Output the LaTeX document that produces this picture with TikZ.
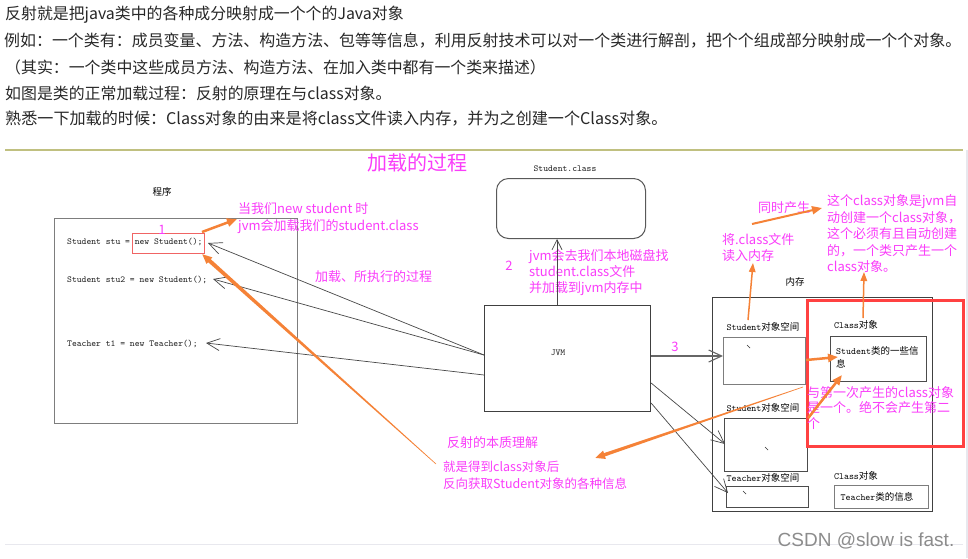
\documentclass[tikz,border=0pt]{standalone}
\usepackage{fontspec}
\setmainfont{Noto Sans CJK SC}
\newfontfamily\wmfont{Liberation Sans}
\usetikzlibrary{arrows.meta,calc}
\definecolor{mag}{RGB}{250,60,250}
\definecolor{org}{RGB}{245,130,55}
\definecolor{redb}{RGB}{255,65,65}
\definecolor{redthin}{RGB}{240,100,100}
\definecolor{oliveline}{RGB}{192,192,128}
\definecolor{txt}{RGB}{40,40,40}
\definecolor{boxgray}{RGB}{125,125,125}
\definecolor{faint}{RGB}{232,232,238}
\begin{document}
\begin{tikzpicture}[x=1pt,y=-1pt,
 toptext/.style={anchor=west,inner sep=0pt,text=txt,font=\fontsize{15.9}{16}\selectfont},
 mtext/.style={anchor=west,inner sep=0pt,text=mag,align=left,font=\fontsize{13}{16.5}\selectfont},
 mono/.style={inner sep=0pt,text=black!85,font=\fontsize{9.2}{11}\ttfamily},
 lbl/.style={inner sep=0pt,font=\fontsize{9.5}{11}\selectfont},
 gbox/.style={draw=boxgray,line width=1.2pt,anchor=north west,inner sep=0pt},
 dbox/.style={draw=black!75,line width=1.1pt,anchor=north west,inner sep=0pt},
 thinarr/.style={draw=black!72,line width=0.7pt,-{Straight Barb[length=13pt,width=12pt]}},
 oarr/.style={draw=org,line width=2.5pt,-{Triangle[length=10pt,width=8pt]}},
 oarrthin/.style={draw=org,line width=1.5pt,-{Triangle[length=9pt,width=6.5pt]}},
 tick/.style={draw=black!80,line width=0.7pt}
]
\useasboundingbox (0,0) rectangle (968,558);
\fill[white] (0,0) rectangle (968,558);

% ---------- top text ----------
\node[toptext] (l1) at (5,15) {反射就是把java类中的各种成分映射成一个个的Java对象};
\node[toptext,font=\fontsize{15.95}{16}\selectfont] (l2) at (4,41) {例如：一个类有：成员变量、方法、构造方法、包等等信息，利用反射技术可以对一个类进行解剖，把个个组成部分映射成一个个对象。};
\node[toptext] (l3) at (5,67) {（其实：一个类中这些成员方法、构造方法、在加入类中都有一个类来描述）};
\node[toptext] (l4) at (5,93) {如图是类的正常加载过程：反射的原理在与class对象。};
\node[toptext,font=\fontsize{16.1}{16}\selectfont] (l5) at (5,119) {熟悉一下加载的时候：Class对象的由来是将class文件读入内存，并为之创建一个Class对象。};
\draw[oliveline,line width=2pt] (5,150) -- (963,150);
\draw[faint,line width=2pt] (966.5,150) -- (966.5,558);
\draw[faint,line width=1pt] (5,544) -- (963,544);

% ---------- boxes ----------
\node[gbox,minimum width=243pt,minimum height=205pt] (prog) at (54,218) {};
\node[draw=redthin,line width=0.8pt,anchor=north west,inner sep=0pt,minimum width=72pt,minimum height=20pt] (rb) at (132,233) {};
\node[draw=black!65,line width=1pt,anchor=north west,inner sep=0pt,rounded corners=12pt,minimum width=149pt,minimum height=60pt] (scls) at (496,178) {};
\node[dbox,minimum width=166pt,minimum height=106pt] (jvm) at (484,305) {};
\node[dbox,minimum width=220pt,minimum height=214pt] (mem) at (712,297) {};
\node[gbox,minimum width=82pt,minimum height=47pt] (sb1) at (723,337) {};
\node[gbox,draw=black!70,minimum width=83pt,minimum height=53pt] (sb2) at (724,418) {};
\node[gbox,draw=black!70,minimum width=82pt,minimum height=21pt] (tb) at (726,486) {};
\node[gbox,draw=black!70,minimum width=96pt,minimum height=45pt] (sinfo) at (830,336) {};
\node[gbox,minimum width=94pt,minimum height=23pt] (tinfo) at (834,485) {};
\node[draw=redb,line width=2.5pt,anchor=north west,inner sep=0pt,minimum width=156pt,minimum height=146pt] (redbig) at (806,299) {};

% ---------- black labels ----------
\node[lbl] (prgl) at (162,192) {程序};
\node[mono,anchor=west] (c1) at (67,242) {Student stu = new Student();};
\node[mono,anchor=west] (c2) at (67,280) {Student stu2 = new Student();};
\node[mono,anchor=west] (c3) at (67,344) {Teacher t1 = new Teacher();};
\node[mono] (sclsl) at (565,169) {Student.class};
\node[mono] (jvml) at (558,353) {JVM};
\node[lbl] (meml) at (795,282) {内存};
\node[lbl] (sb1l) at (763,327) {{\ttfamily Student}对象空间};
\node[lbl] (sb2l) at (763,408) {{\ttfamily Student}对象空间};
\node[lbl] (tbl) at (763,478) {{\ttfamily Teacher}对象空间};
\node[lbl] (cl1) at (856,325) {{\ttfamily Class}对象};
\node[lbl] (cl2) at (856,476) {{\ttfamily Class}对象};
\node[lbl,anchor=north west,align=left,font=\fontsize{9.5}{13.5}\selectfont] (sinfot) at (836,346) {{\ttfamily Student}类的一些信\\息};
\node[lbl] (tinfot) at (877,497) {{\ttfamily Teacher}类的信息};
\draw[tick] (747,345) -- (750,348);
\draw[tick] (765,447) -- (768,450);
\draw[tick] (743,491) -- (746,494);

% ---------- magenta text ----------
\node[mtext,anchor=center,font=\fontsize{20}{20}\selectfont] (title) at (417,163) {加载的过程};
\node[mtext,anchor=center] (n1) at (162,230) {1};
\node[mtext,anchor=center] (n2) at (509,266) {2};
\node[mtext,anchor=center] (n3) at (675,347) {3};
\node[mtext] (m1) at (238,218) {当我们new student 时\\jvm会加载我们的student.class};
\node[mtext] (m2) at (315,277) {加载、所执行的过程};
\node[mtext,font=\fontsize{13}{16}\selectfont] (m3) at (529,273) {jvm会去我们本地磁盘找\\student.class文件\\并加载到jvm内存中};
\node[mtext] (m4) at (722,247.5) {将.class文件\\读入内存};
\node[mtext] (m5) at (758,208) {同时产生};
\node[mtext] (m6) at (827,234) {这个class对象是jvm自\\动创建一个class对象，\\这个必须有且自动创建\\的，一个类只产生一个\\class对象。};
\node[mtext,font=\fontsize{13}{15.5}\selectfont] (m7) at (807,408) {与第一次产生的class对象\\是一个。绝不会产生第二\\个};
\node[mtext] (m8) at (447,443) {反射的本质理解};
\node[mtext,font=\fontsize{12.5}{16.5}\selectfont] (m9) at (443,475) {就是得到class对象后\\反向获取Student对象的各种信息};

% ---------- thin black connectors ----------
\coordinate (jA) at ($(jvm.north west)+(0,50)$);
\coordinate (jB) at ($(jvm.north west)+(0,70)$);
\coordinate (jT) at ($(jvm.north west)+(73,0)$);
\coordinate (jR1) at ($(jvm.north east)+(0,51)$);
\coordinate (jR2) at ($(jvm.north east)+(0,78)$);
\coordinate (jR3) at ($(jvm.north east)+(0,98)$);
\coordinate (t1) at (208,243);
\coordinate (t2) at (213,279);
\coordinate (t3) at (206,343);
\draw[thinarr] (jA) -- (t1);
\draw[thinarr] (jA) -- (t2);
\draw[thinarr] (jB) -- (t3);
\draw[thinarr,-{Straight Barb[length=10pt,width=10pt]}] (jT) -- (jT |- scls.south);
\draw[thinarr,line width=1.1pt,draw=black!60] (jR1) -- (jR1 -| sb1.west);
\draw[thinarr] (jR2) -- (725,444);
\draw[thinarr] (jR3) -- (728,493);

% ---------- orange connectors ----------
\coordinate (aT) at (202,232);
\coordinate (aH) at (237,219);
\draw[oarr] (aT) -- (aH);
\coordinate (bT) at (436,464);
\coordinate (bH) at (202,254);
\coordinate (bB) at ($(bH)!8pt!(bT)$);
\fill[org] ($(bT)!0.3pt!90:(bH)$) -- ($(bB)!2pt!-90:(bT)$) -- ($(bB)!2pt!90:(bT)$) -- ($(bT)!0.3pt!-90:(bH)$) -- cycle;
\draw[oarr,line width=3pt] ($(bH)!14pt!(bT)$) -- (bH);
\coordinate (cT) at (803,387);
\coordinate (cH) at (595,458);
\coordinate (cB) at ($(cH)!8pt!(cT)$);
\fill[org] ($(cT)!0.3pt!90:(cH)$) -- ($(cB)!1.7pt!-90:(cT)$) -- ($(cB)!1.7pt!90:(cT)$) -- ($(cT)!0.3pt!-90:(cH)$) -- cycle;
\draw[oarr,line width=2.8pt] ($(cH)!14pt!(cT)$) -- (cH);
\draw[oarr] (sb1.east |- 0,360) -- (838,357);
\draw[oarr] (sb2.north east) -- (842,375);
\draw[oarrthin] (748,320) -- (753,263);
\draw[oarrthin] (863,318) -- (864,272);
\draw[oarr,line width=2pt] (752,224) -- (822,208);

% ---------- watermark ----------
\node[inner sep=0pt,text=black!45,font=\wmfont\fontsize{19}{19}\selectfont] (wm) at (866,541) {CSDN @slow is fast.};
\end{tikzpicture}
\end{document}
